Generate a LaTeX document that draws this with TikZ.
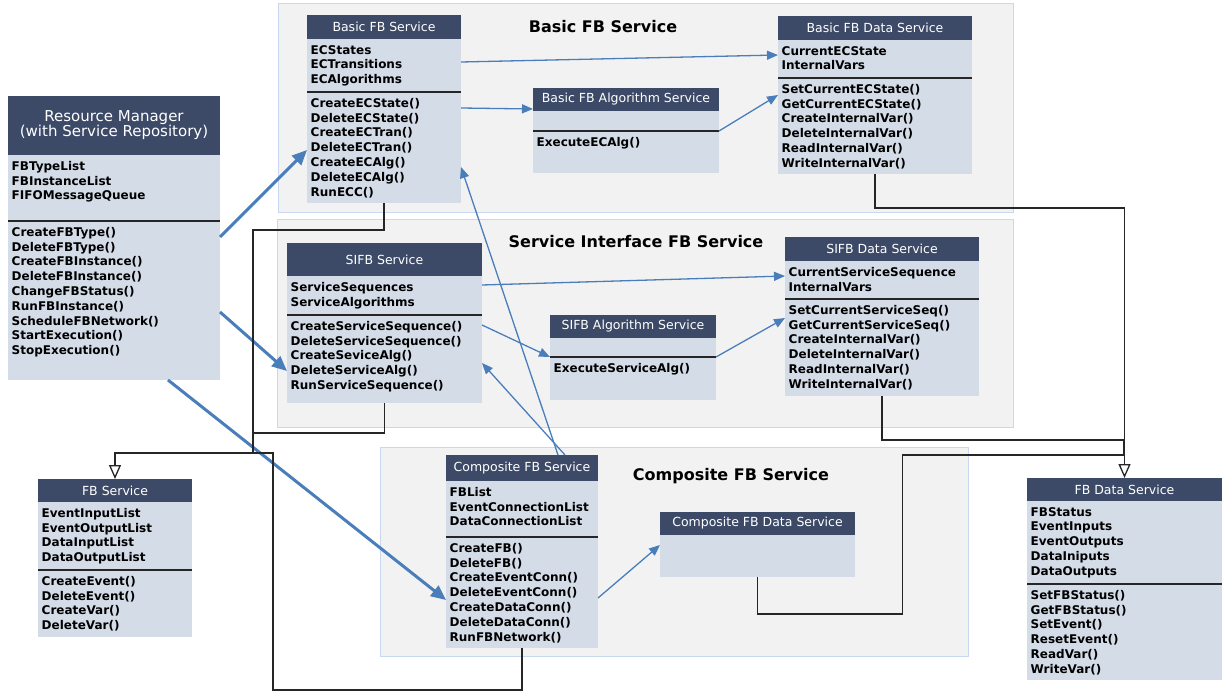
\documentclass[tikz,border=0pt]{standalone}
\usepackage{fontspec}
\setmainfont{DejaVu Sans}
\usepackage{tikz}
\usetikzlibrary{arrows.meta,positioning}
\definecolor{headNavy}{RGB}{60,74,104}
\definecolor{bodyBlue}{RGB}{212,220,232}
\definecolor{groupGray}{RGB}{242,242,242}
\definecolor{groupEdge}{RGB}{200,216,240}
\definecolor{callBlue}{RGB}{74,126,187}
\tikzstyle{serviceGroup} = [rectangle, anchor=north west, fill=groupGray, draw=groupEdge, line width=1pt, inner sep=0pt, outer sep=0pt]
\tikzstyle{groupTitle} = [font=\fontsize{16}{19}\selectfont\bfseries]
\tikzstyle{classHead} = [rectangle, anchor=north west, fill=headNavy, text=white, font=\fontsize{12.5}{15}\selectfont, align=center, inner sep=0pt, outer sep=0pt]
\tikzstyle{classBody} = [rectangle, fill=bodyBlue, inner sep=0pt, outer sep=0pt]
\tikzstyle{classText} = [anchor=north west, align=left, inner xsep=3.5pt, inner ysep=6pt, font=\fontsize{12}{14.8}\selectfont\bfseries]
\tikzstyle{classLine} = [draw=black!85, line width=1.3pt]
\tikzstyle{mainArrow} = [draw=callBlue, line width=3pt, -{Triangle[length=15pt,width=13pt]}]
\tikzstyle{callArrow} = [draw=callBlue, line width=1.3pt, -{Triangle[length=11pt,width=9pt]}]
\tikzstyle{link} = [draw=black!85, line width=1.3pt]
\tikzstyle{inheritArrow} = [link, -{Triangle[open,length=14pt,width=12pt]}]
\newcommand{\fbclass}[9]{
  \node[classHead, minimum width=#3pt, minimum height=#4pt] (#1) at #2 {#7};
  \node[classBody, minimum width=#3pt, minimum height=#5pt, below=0pt of #1] (#1-a) {};
  \node[classBody, minimum width=#3pt, minimum height=#6pt, below=0pt of #1-a] (#1-m) {};
  \node[classText] (#1-at) at (#1-a.north west) {#8};
  \node[classText] (#1-mt) at (#1-m.north west) {#9};
  \draw[classLine] (#1-a.south west) -- (#1-a.south east);
}

\begin{document}
\begin{tikzpicture}[x=1pt, y=-1pt]
\useasboundingbox[fill=white] (0,0) rectangle (1222,693);
\node[serviceGroup, minimum width=735pt, minimum height=208pt] (basicGroup) at (278,4) {};
\node[serviceGroup, minimum width=736pt, minimum height=208pt] (sifbGroup) at (277,219) {};
\node[serviceGroup, minimum width=588pt, minimum height=209pt] (compGroup) at (380,447) {};
\node[groupTitle] (basicTitle) at (603,27) {Basic FB Service};
\node[groupTitle] (sifbTitle) at (636,242) {Service Interface FB Service};
\node[groupTitle] (compTitle) at (731,476) {Composite FB Service};

\fbclass{rm}{(8,96)}{212}{59}{66}{159}{\fontsize{15}{18}\selectfont Resource Manager\\\fontsize{15}{18}\selectfont (with Service Repository)}{FBTypeList\\FBInstanceList\\FIFOMessageQueue}{CreateFBType()\\DeleteFBType()\\CreateFBInstance()\\DeleteFBInstance()\\ChangeFBStatus()\\RunFBInstance()\\ScheduleFBNetwork()\\StartExecution()\\StopExecution()}
\fbclass{bfs}{(307,15)}{154}{24}{53}{111}{Basic FB Service}{ECStates\\ECTransitions\\ECAlgorithms}{CreateECState()\\DeleteECState()\\CreateECTran()\\DeleteECTran()\\CreateECAlg()\\DeleteECAlg()\\RunECC()}
\fbclass{bfa}{(533,88)}{186}{23}{20}{42}{Basic FB Algorithm Service}{}{ExecuteECAlg()}
\fbclass{bfd}{(778,16)}{194}{24}{38}{96}{Basic FB Data Service}{CurrentECState\\InternalVars}{SetCurrentECState()\\GetCurrentECState()\\CreateInternalVar()\\DeleteInternalVar()\\ReadInternalVar()\\WriteInternalVar()}
\fbclass{sfs}{(287,243)}{195}{33}{39}{88}{SIFB Service}{ServiceSequences\\ServiceAlgorithms}{CreateServiceSequence()\\DeleteServiceSequence()\\CreateSeviceAlg()\\DeleteServiceAlg()\\RunServiceSequence()}
\fbclass{sfa}{(550,315)}{166}{23}{19}{43}{SIFB Algorithm Service}{}{ExecuteServiceAlg()}
\fbclass{sfd}{(785,237)}{194}{24}{38}{97}{SIFB Data Service}{CurrentServiceSequence\\InternalVars}{SetCurrentServiceSeq()\\GetCurrentServiceSeq()\\CreateInternalVar()\\DeleteInternalVar()\\ReadInternalVar()\\WriteInternalVar()}
\fbclass{cfs}{(446,455)}{152}{26}{56}{111}{Composite FB Service}{FBList\\EventConnectionList\\DataConnectionList}{CreateFB()\\DeleteFB()\\CreateEventConn()\\DeleteEventConn()\\CreateDataConn()\\DeleteDataConn()\\RunFBNetwork()}
\fbclass{fbs}{(38,479)}{154}{23}{68}{67}{FB Service}{EventInputList\\EventOutputList\\DataInputList\\DataOutputList}{CreateEvent()\\DeleteEvent()\\CreateVar()\\DeleteVar()}
\fbclass{fbd}{(1027,478)}{195}{23}{83}{96}{FB Data Service}{FBStatus\\EventInputs\\EventOutputs\\DataIniputs\\DataOutputs}{SetFBStatus()\\GetFBStatus()\\SetEvent()\\ResetEvent()\\ReadVar()\\WriteVar()}
\node[classHead, minimum width=195pt, minimum height=23pt] (cfd) at (660,512) {Composite FB Data Service};
\node[classBody, minimum width=195pt, minimum height=42pt, below=0pt of cfd] (cfd-m) {};

\draw[mainArrow] ([yshift=-16pt]rm-m.north east) -- ([yshift=-58pt]bfs-m.north west);
\draw[mainArrow] ([yshift=-91pt]rm-m.north east) -- ([yshift=-56pt]sfs-m.north west);
\draw[mainArrow] ([xshift=54pt]rm-m.south) -- ([yshift=-63pt]cfs-m.north west);
\draw[callArrow] ([yshift=-23pt]bfs-a.north east) -- ([yshift=-15pt]bfd-a.north west);
\draw[callArrow] ([yshift=-16pt]bfs-m.north east) -- ([yshift=2pt]bfa.south west);
\draw[callArrow] (bfa-a.south east) -- ([yshift=-17pt]bfd-m.north west);
\draw[callArrow] ([yshift=-9pt]sfs-a.north east) -- ([yshift=-15pt]sfd-a.north west);
\draw[callArrow] ([yshift=-10pt]sfs-m.north east) -- (sfa-a.south west);
\draw[callArrow] (sfa-a.south east) -- ([yshift=-19pt]sfd-m.north west);
\draw[callArrow] ([xshift=36pt]cfs.north) -- ([yshift=-75pt]bfs-m.north east);
\draw[callArrow] ([xshift=43pt]cfs.north) -- ([yshift=-48pt]sfs-m.north east);
\draw[callArrow] ([yshift=-61pt]cfs-m.north east) -- ([yshift=-10pt]cfd-m.north west);

\coordinate (fbsJoin) at (253,453);
\coordinate (fbsBus) at (273,453);
\coordinate (fbdJoin) at (1124,455);
\draw[link] (bfs-m.south) -- ++(0,27) -| (fbsJoin);
\draw[link] (sfs-m.south) -- ++(0,30) -| (fbsJoin);
\draw[inheritArrow] (cfs-m.south) -- ++(0,42) -| (fbsBus) -| (fbs.north);
\draw[inheritArrow] (bfd-m.south) -- ++(0,34) -| (fbd.north);
\draw[link] (sfd-m.south) -- ++(0,44) -| (fbdJoin);
\draw[link] (cfd-m.south) -- ++(0,37) -- ++(145,0) |- (fbdJoin);
\end{tikzpicture}
\end{document}
